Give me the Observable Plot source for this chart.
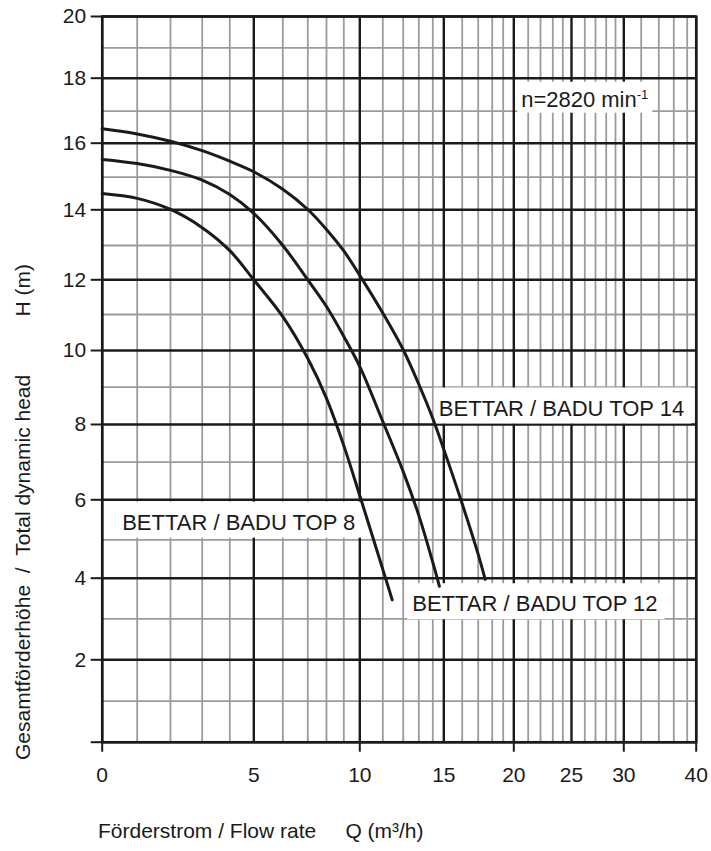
<!DOCTYPE html>
<html>
<head>
<meta charset="utf-8">
<script src="https://cdn.jsdelivr.net/npm/d3@7"></script>
<script src="https://cdn.jsdelivr.net/npm/@observablehq/plot@0.6"></script>
<style>
  html, body { margin: 0; padding: 0; background: #fff; }
  #chart svg { display: block; }
</style>
</head>
<body>
<div id="chart"></div>
<script>
// ---------- DATA ----------
const models = ["BETTAR / BADU TOP 14", "BETTAR / BADU TOP 12", "BETTAR / BADU TOP 8"];

const q14 = [0, 1, 2, 3, 4, 5, 6, 7, 8, 9, 10, 11, 12, 13, 14, 15, 16, 17, 17.5];
const h14 = [16.45, 16.29, 16.06, 15.78, 15.47, 15.16, 14.63, 14.01, 13.45, 12.84, 12.13, 11.04, 10.02, 9.08, 8.16, 7.34, 5.9, 4.62, 3.97];

const q12 = [0, 1, 2, 3, 4, 5, 6, 7, 8, 9, 10, 11, 12, 13, 14, 14.6];
const h12 = [15.52, 15.4, 15.2, 14.91, 14.47, 13.9, 13.0, 12.0, 11.23, 10.39, 9.56, 8.08, 6.75, 5.61, 4.41, 3.8];

const q8 = [0, 1, 2, 3, 4, 5, 6, 7, 8, 9, 10, 11, 11.46];
const h8 = [14.5, 14.35, 14.01, 13.5, 12.85, 12.0, 10.94, 9.78, 8.7, 7.44, 6.11, 4.23, 3.47];

// grid / tick values (Q in m³/h, H in m)
const qBreaks = [0,1,2,3,4,5,6,7,8,9,10,11,12,13,14,15,16,17,18,19,20,21,22,23,24,25,26,27,28,29,30,32,34,36,38,40];
const qMajor = [0, 5, 10, 15, 20, 25, 30, 40];
const qMinor = qBreaks.filter(v => !qMajor.includes(v));
const qTickLabels = [0, 5, 10, 15, 20, 25, 30, 40];
const qTickMarks = [0, 10, 20, 30, 40];

const hBreaks = [0,1,2,3,4,5,6,7,8,9,10,11,12,13,14,15,16,17,18,19,20];
const hMajor = [0, 2, 4, 6, 8, 10, 12, 14, 16, 18, 20];
const hMinor = hBreaks.filter(v => !hMajor.includes(v));
const hTickLabels = [2, 4, 6, 8, 10, 12, 14, 16, 18, 20];

// curve labels (anchor in data units)
const labelText = ["BETTAR / BADU TOP 14", "BETTAR / BADU TOP 12", "BETTAR / BADU TOP 8"];
const labelQ = [14.55, 12.58, 0.57];
const labelH = [8.43, 3.36, 5.43];

const speedText = "n=2820 min";
const speedSup = "-1";
const speedQ = 20.51;
const speedH = 17.35;

const xTitle = "Förderstrom / Flow rate\u00A0\u00A0\u00A0\u00A0\u00A0Q (m³/h)";
const yTitle = "Gesamtförderhöhe\u00A0\u00A0/\u00A0\u00A0Total dynamic head\u00A0\u00A0\u00A0\u00A0\u00A0\u00A0\u00A0\u00A0\u00A0\u00A0H (m)";

// ---------- BUILD ----------
const qs = [q14, q12, q8], hs = [h14, h12, h8];
const rows = models.flatMap((m, i) => qs[i].map((q, j) => ({model: m, q, h: hs[i][j]})));
const labels = labelText.map((t, i) => ({t, q: labelQ[i], h: labelH[i]}));
const speed = [{t: speedText, q: speedQ, h: speedH}];

// scale layout (the chart uses a non-uniform grid on both axes)
const xLayout = {
  domain: qBreaks,
  range: [101.7,136.7,170,201.7,229.3,253.3,282.3,307.3,326,343.3,359.3,382.3,402.7,418.3,432.3,443.3,461.7,477.7,491.7,502.7,513.3,527.7,540,552.3,562.3,571,584.3,595,605.7,615,623.3,640.7,658.3,673.3,686.7,695.7]
};
const yLayout = {
  domain: hBreaks,
  range: [741.7,700.7,659.3,618.3,577.7,539.3,499.3,461.7,424,386.7,350,314,279.3,245,209.3,176.7,142.7,110.7,77.7,47.3,16]
};

const FONT = "'Liberation Sans', Arial, Helvetica, sans-serif";
const INK = "#1a1a1a";

const chart = Plot.plot({
  width: 711,
  height: 851,
  marginLeft: 101.7,
  marginRight: 15.3,
  marginTop: 16,
  marginBottom: 109.3,
  style: {fontFamily: FONT, fontSize: "21px", color: INK, background: "#fff"},
  x: {type: "linear", domain: xLayout.domain, range: xLayout.range},
  y: {type: "linear", domain: yLayout.domain, range: yLayout.range},
  marks: [
    Plot.ruleX(qMinor, {stroke: "#9b9b9b", strokeWidth: 1.8}),
    Plot.ruleY(hMinor, {stroke: "#9b9b9b", strokeWidth: 1.8}),
    Plot.ruleX(qMajor, {stroke: INK, strokeWidth: 2.4}),
    Plot.ruleY(hMajor, {stroke: INK, strokeWidth: 2.4}),
    Plot.frame({stroke: INK, strokeWidth: 2.5}),
    Plot.text(labels, {x: "q", y: "h", text: "t", textAnchor: "start", fontSize: 22, fill: INK}),
    Plot.text(speed, {x: "q", y: "h", text: "t", textAnchor: "start", fontSize: 22, fill: INK}),
    Plot.line(rows, {x: "q", y: "h", z: "model", stroke: INK, strokeWidth: 3, curve: "catmull-rom"}),
    Plot.axisY({ticks: hMajor, tickSize: 11, tickPadding: 5, strokeWidth: 2, color: INK,
      tickFormat: d => hTickLabels.includes(d) ? String(d) : "", fontSize: 21, label: null}),
    Plot.axisX({ticks: qTickMarks, tickSize: 10, strokeWidth: 2, color: INK, tickFormat: () => "", label: null}),
    Plot.axisX({ticks: qTickLabels, tickSize: 0, tickPadding: 25, color: INK, fontSize: 21, label: null})
  ]
});

document.getElementById("chart").appendChild(chart);

const svgNS = "http://www.w3.org/2000/svg";
const textGroups = chart.querySelectorAll('g[aria-label="text"]');
const labelGroup = textGroups[0];
const speedGroup = textGroups[1];

// superscript on the speed label
if (speedGroup) speedGroup.querySelectorAll("text").forEach(t => {
  const sup = document.createElementNS(svgNS, "tspan");
  sup.setAttribute("font-size", "13");
  sup.setAttribute("dy", "-8");
  sup.textContent = speedSup;
  t.appendChild(sup);
});

// white boxes behind the labels
function addBoxes(group, pad) {
  if (!group) return;
  group.querySelectorAll("text").forEach(t => {
    const b = t.getBBox();
    const r = document.createElementNS(svgNS, "rect");
    r.setAttribute("x", b.x - pad.l);
    r.setAttribute("y", b.y - pad.t);
    r.setAttribute("width", b.width + pad.l + pad.r);
    r.setAttribute("height", b.height + pad.t + pad.b);
    r.setAttribute("fill", "#fff");
    r.setAttribute("stroke", "none");
    const tr = t.getAttribute("transform");
    if (tr) r.setAttribute("transform", tr);
    t.parentNode.insertBefore(r, t);
  });
}
addBoxes(labelGroup, {l: 5, r: 7, t: 8, b: 3});
addBoxes(speedGroup, {l: 4, r: 4, t: 5, b: 1});

// axis titles
const svg = d3.select(chart);
svg.append("text")
  .attr("x", 98).attr("y", 838)
  .attr("text-anchor", "start")
  .attr("fill", INK).attr("font-size", 21).attr("font-family", FONT)
  .text(xTitle);
svg.append("text")
  .attr("transform", "translate(30,512) rotate(-90)")
  .attr("text-anchor", "middle")
  .attr("fill", INK).attr("font-size", 21).attr("font-family", FONT)
  .text(yTitle);
</script>
</body>
</html>
